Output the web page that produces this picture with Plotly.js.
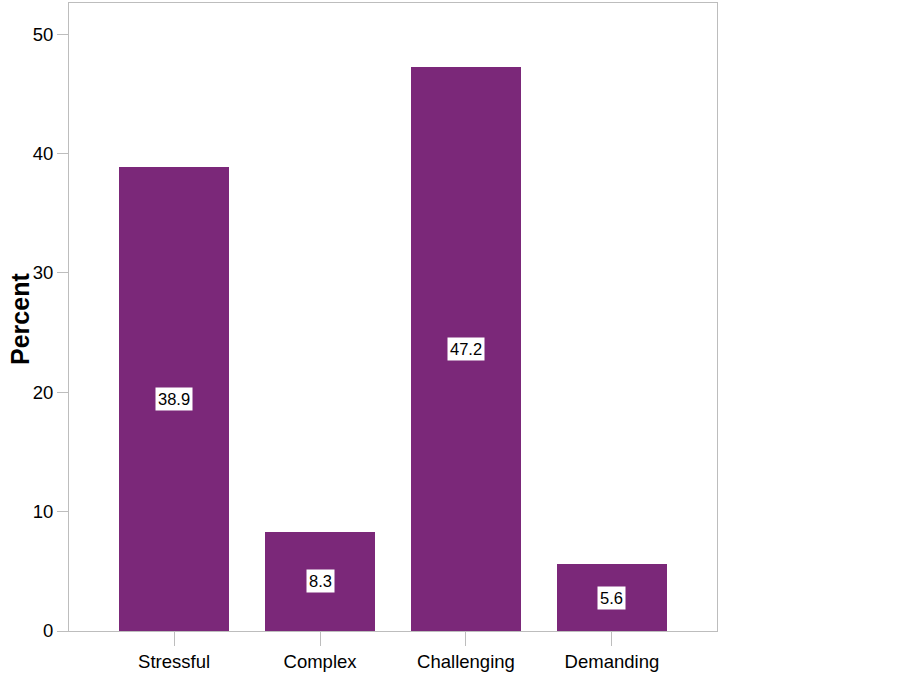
<!DOCTYPE html>
<html>
<head>
<meta charset="utf-8">
<script src="https://cdn.plot.ly/plotly-3.0.1.min.js"></script>
<style>html,body{margin:0;padding:0;background:#fff;}</style>
</head>
<body>
<div id="chart" style="width:902px;height:675px;"></div>
<script>
const categories = ["Stressful", "Complex", "Challenging", "Demanding"];
const percents = [38.9, 8.3, 47.2, 5.6];
const yTicks = [0, 10, 20, 30, 40, 50];
const yTitle = "Percent";

const trace = {
  type: "bar",
  x: categories,
  y: percents,
  width: 0.753,
  marker: {color: "#7b2879", line: {width: 0}},
  hoverinfo: "none"
};

const annotations = categories.map((c, i) => ({
  x: c,
  y: percents[i] / 2,
  xref: "x",
  yref: "y",
  text: percents[i].toFixed(1),
  showarrow: false,
  bgcolor: "#ffffff",
  borderpad: 2,
  font: {family: "Liberation Sans, Arial, sans-serif", size: 16.5, color: "#000"}
}));

annotations.push({
  xref: "paper",
  yref: "paper",
  x: -0.0755,
  y: 0.497,
  xanchor: "center",
  yanchor: "middle",
  textangle: -90,
  text: "<b>" + yTitle + "</b>",
  showarrow: false,
  font: {family: "Liberation Sans, Arial, sans-serif", size: 25, color: "#000"}
});

const layout = {
  width: 902,
  height: 675,
  margin: {l: 69, r: 185, t: 3, b: 44},
  paper_bgcolor: "#fff",
  plot_bgcolor: "#fff",
  showlegend: false,
  bargap: 0,
  xaxis: {
    type: "category",
    range: [-0.72, 3.72],
    showline: true,
    linecolor: "#bdbdbd",
    linewidth: 1,
    mirror: true,
    ticks: "outside",
    ticklen: 14,
    tickcolor: "#bdbdbd",
    showgrid: false,
    zeroline: false,
    tickfont: {family: "Liberation Sans, Arial, sans-serif", size: 18.5, color: "#000"}
  },
  yaxis: {
    range: [0, 52.6],
    tickvals: yTicks,
    ticktext: yTicks.map(String),
    showline: true,
    linecolor: "#bdbdbd",
    linewidth: 1,
    mirror: true,
    ticks: "outside",
    ticklen: 11,
    tickcolor: "#bdbdbd",
    showgrid: false,
    zeroline: false,
    tickfont: {family: "Liberation Sans, Arial, sans-serif", size: 18.5, color: "#000"}
  },
  annotations: annotations
};

Plotly.newPlot("chart", [trace], layout, {displayModeBar: false, staticPlot: true});
</script>
</body>
</html>
